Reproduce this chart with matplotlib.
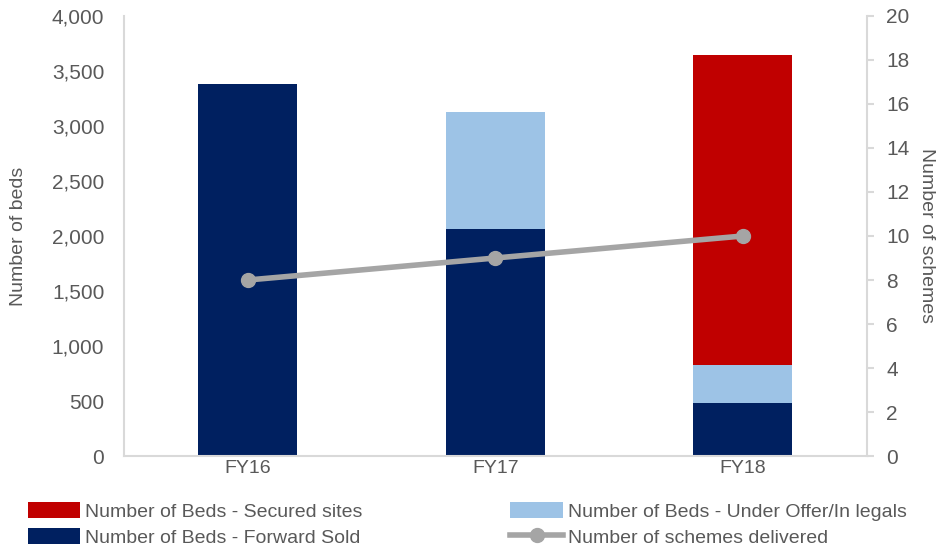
import matplotlib.pyplot as plt

years = ['FY16', 'FY17', 'FY18']
forward_sold = [3385, 2066, 485]
under_offer = [0, 1058, 340]
secured_sites = [0, 0, 2815]
schemes_delivered = [8, 9, 10]

plt.rcParams['font.family'] = 'Liberation Sans'

grey_text = '#595959'
spine_col = '#d9d9d9'

fig = plt.figure(figsize=(9.38, 5.45), dpi=100)
ax = fig.add_axes([0.132, 0.163, 0.792, 0.808])
ax2 = ax.twinx()

x = range(len(years))
w = 0.4
b1 = ax.bar(x, forward_sold, w, color='#002060', label='Number of Beds - Forward Sold', zorder=2)
b2 = ax.bar(x, under_offer, w, bottom=forward_sold, color='#9dc3e6',
            label='Number of Beds - Under Offer/In legals', zorder=2)
base = [a + b for a, b in zip(forward_sold, under_offer)]
b3 = ax.bar(x, secured_sites, w, bottom=base, color='#c00000',
            label='Number of Beds - Secured sites', zorder=2)
ln, = ax2.plot(x, schemes_delivered, color='#a5a5a5', lw=4, marker='o', ms=10,
               label='Number of schemes delivered')

ax.set_xlim(-0.5, 2.5)
ax.set_ylim(0, 4000)
ax.set_yticks(range(0, 4001, 500))
ax.set_yticklabels([f'{v:,}' for v in range(0, 4001, 500)])
ax2.set_ylim(0, 20)
ax2.set_yticks(range(0, 21, 2))
ax.set_xticks(list(x))
ax.set_xticklabels(years)

for a in (ax, ax2):
    for s in a.spines.values():
        s.set_visible(False)
ax.spines['left'].set_visible(True)
ax.spines['bottom'].set_visible(True)
ax2.spines['right'].set_visible(True)
for s in (ax.spines['left'], ax.spines['bottom'], ax2.spines['right']):
    s.set_color(spine_col)
    s.set_linewidth(1.5)

ax.tick_params(axis='y', length=0, labelsize=15, labelcolor=grey_text, pad=14)
ax.tick_params(axis='x', length=0, labelsize=14, labelcolor=grey_text, pad=3)
ax2.tick_params(axis='y', length=5, width=1.5, color=spine_col, labelsize=15,
                labelcolor=grey_text, pad=9)

ax.set_ylabel('Number of beds', fontsize=14, color=grey_text, labelpad=18)
ax2.set_ylabel('Number of schemes', fontsize=14, color=grey_text, rotation=270,
               labelpad=18)

handles = [b3, b1, b2, ln]
fig.legend(handles=handles, labels=[h.get_label() for h in handles], ncol=2,
           loc='lower left', bbox_to_anchor=(0.011, -0.035), frameon=False,
           fontsize=14, labelcolor=grey_text, handlelength=2.7, handleheight=0.9,
           handletextpad=0.25, columnspacing=7.6, labelspacing=0.35)

fig.savefig('out.png', dpi=100)
